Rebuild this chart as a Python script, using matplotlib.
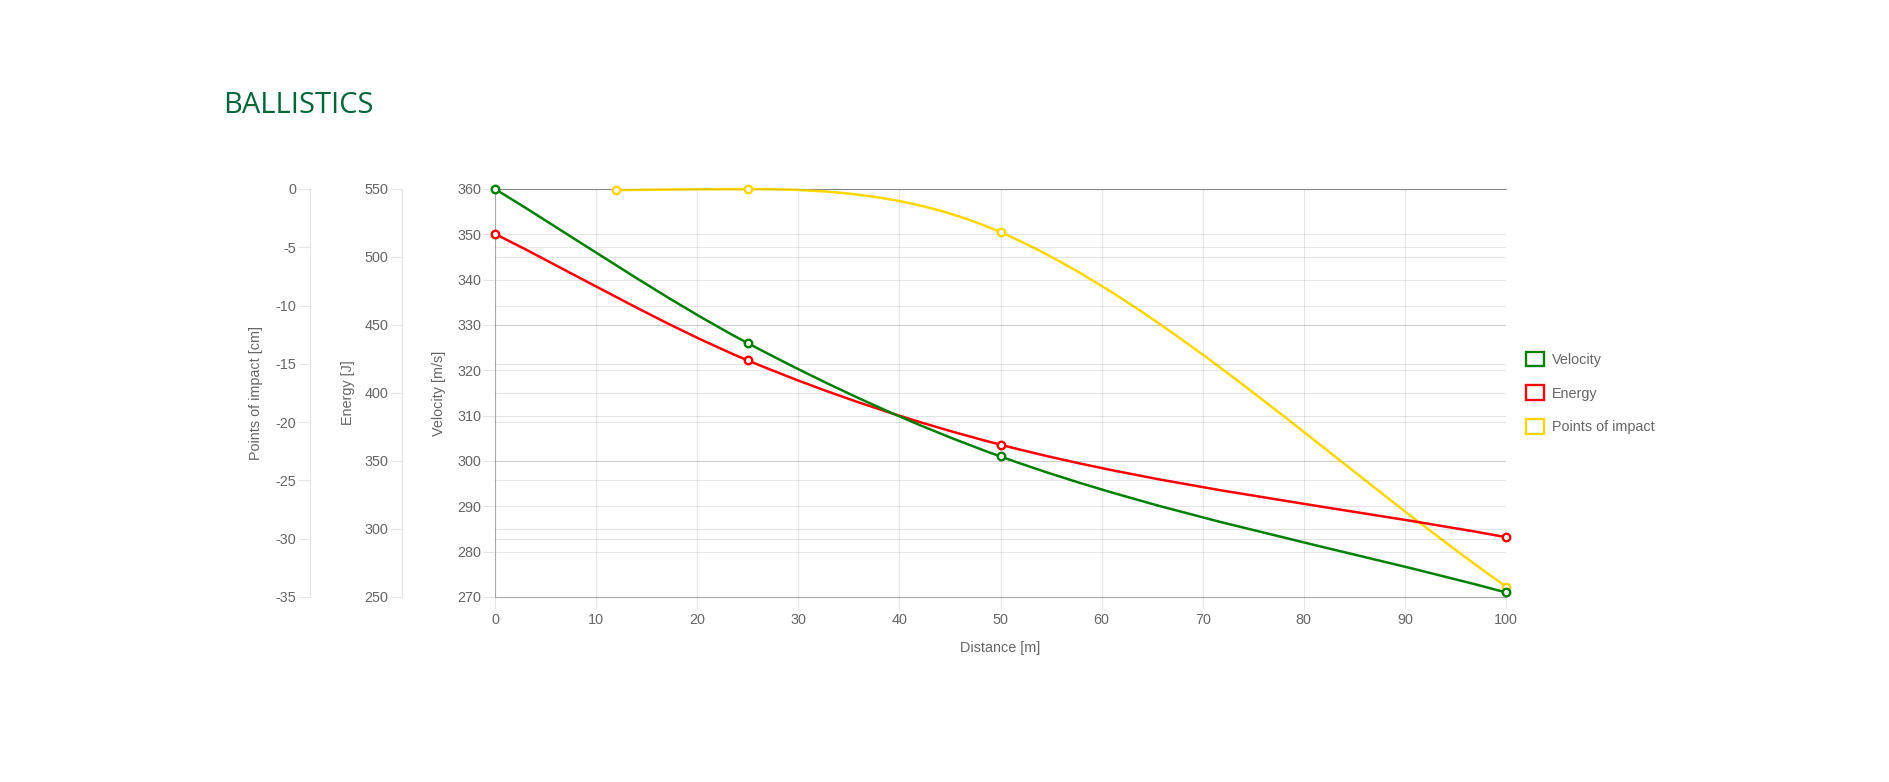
import numpy as np
import matplotlib
matplotlib.use("Agg")
import matplotlib.pyplot as plt
from matplotlib.path import Path
from matplotlib.patches import PathPatch, Patch

plt.rcParams['font.family'] = ['Liberation Sans', 'DejaVu Sans']
plt.rcParams['axes.unicode_minus'] = False

# values
distance = [0, 25, 50, 100]
velocity = [360, 326, 301, 271]
energy = [517, 424, 362, 294]
impact_distance = [12, 25, 50, 100]
impact = [-0.1, 0, -3.7, -34.1]

x_ticks = list(range(0, 101, 10))
velocity_ticks = list(range(270, 361, 10))
energy_ticks = list(range(250, 551, 50))
impact_ticks = list(range(-35, 1, 5))

GRID = (0, 0, 0, 0.1)
TEXT = '#666666'
FS = 10.4


def monotone_path(xs, ys):
    """Bezier path with the control points chart.js uses for 'monotone' lines."""
    n = len(xs)
    dk = [(ys[i + 1] - ys[i]) / (xs[i + 1] - xs[i]) for i in range(n - 1)]
    mk = [0.0] * n
    mk[0] = dk[0]
    mk[-1] = dk[-1]
    for i in range(1, n - 1):
        mk[i] = 0.0 if dk[i - 1] * dk[i] <= 0 else (dk[i - 1] + dk[i]) / 2
    for i in range(n - 1):
        if dk[i] == 0:
            mk[i] = mk[i + 1] = 0.0
            continue
        a = mk[i] / dk[i]
        b = mk[i + 1] / dk[i]
        sq = a * a + b * b
        if sq <= 9:
            continue
        t = 3 / np.sqrt(sq)
        mk[i] = a * t * dk[i]
        mk[i + 1] = b * t * dk[i]
    verts = [(xs[0], ys[0])]
    codes = [Path.MOVETO]
    for i in range(n - 1):
        d = (xs[i + 1] - xs[i]) / 3
        verts += [(xs[i] + d, ys[i] + d * mk[i]),
                  (xs[i + 1] - d, ys[i + 1] - d * mk[i + 1]),
                  (xs[i + 1], ys[i + 1])]
        codes += [Path.CURVE4] * 3
    return Path(verts, codes)


W, H = 1889, 782
fig = plt.figure(figsize=(W / 100, H / 100), dpi=100)
ax = fig.add_axes([495 / W, 1 - 597 / H, (1506 - 495) / W, (597 - 189) / H])
ax_en = ax.twinx()
ax_imp = ax.twinx()

# main axes (velocity / distance)
ax.grid(True, color='black', alpha=0.1, lw=0.8)
ax.set_axisbelow(True)
for s in ('top', 'left', 'bottom'):
    ax.spines[s].set_color('#a8a8a8')
    ax.spines[s].set_linewidth(0.8)
ax.spines['right'].set_visible(False)
ax.tick_params(axis='both', length=8.5, width=0.8, color=GRID,
               labelcolor=TEXT, labelsize=FS)
ax.tick_params(axis='y', pad=1.5)
ax.tick_params(axis='x', pad=3)

# extra left axes
for a, pos in ((ax_en, -0.092), (ax_imp, -0.183)):
    for s in ('top', 'bottom', 'right'):
        a.spines[s].set_visible(False)
    a.yaxis.tick_left()
    a.yaxis.set_label_position('left')
    a.spines['left'].set_position(('axes', pos))
    a.spines['left'].set_color('#e3e3e3')
    a.spines['left'].set_linewidth(0.8)
    a.grid(True, axis='y', color='black', alpha=0.1, lw=0.8)
    a.tick_params(axis='y', length=8.5, width=0.8, color=GRID,
                  labelcolor=TEXT, labelsize=FS, pad=1.5)

# datasets, first one on top (like chart.js)
series = [
    (impact_distance, impact, ax_imp, '#ffd700'),
    (distance, energy, ax_en, '#ff0000'),
    (distance, velocity, ax, '#008000'),
]
for xs, ys, owner, c in series:
    tr = owner.transData
    ax_imp.add_patch(PathPatch(monotone_path(xs, ys), facecolor='none',
                               edgecolor=c, lw=1.8, transform=tr, clip_on=False))
    ax_imp.plot(xs, ys, ls='none', marker='o', ms=5.4, mew=1.7, mfc='white',
                mec=c, transform=tr, clip_on=False)

ax.set_xlim(0, 100)
ax.set_xticks(x_ticks)
ax.set_ylim(270, 360)
ax.set_yticks(velocity_ticks)
ax_en.set_ylim(250, 550)
ax_en.set_yticks(energy_ticks)
ax_imp.set_ylim(-35, 0)
ax_imp.set_yticks(impact_ticks)

ax.set_ylabel('Velocity [m/s]', fontsize=FS, color=TEXT, va='center')
ax.yaxis.set_label_coords(-0.0555, 0.5)
ax_en.set_ylabel('Energy [J]', fontsize=FS, color=TEXT, va='center')
ax_en.yaxis.set_label_coords(-0.1455, 0.5)
ax_imp.set_ylabel('Points of impact [cm]', fontsize=FS, color=TEXT, va='center')
ax_imp.yaxis.set_label_coords(-0.2365, 0.5)
ax.set_xlabel('Distance [m]', fontsize=FS, color=TEXT, va='center')
ax.xaxis.set_label_coords(0.5, -0.125)

handles = [Patch(facecolor='white', edgecolor=c, lw=1.7) for c in ('#008000', '#ff0000', '#ffd700')]
fig.legend(handles, ['Velocity', 'Energy', 'Points of impact'],
           loc='center left', bbox_to_anchor=(1525.5 / W, 1 - 393 / H),
           frameon=False, fontsize=FS, labelcolor=TEXT,
           handlelength=1.3, handleheight=1.15, handletextpad=0.5,
           labelspacing=1.29, borderpad=0, borderaxespad=0)

fig.text(222.7 / W, 1 - 112.7 / H, 'BALLISTICS', fontsize=21, color='#00663a',
         family=['Open Sans', 'DejaVu Sans'], va='baseline', ha='left')

fig.savefig('out.png', dpi=100)
